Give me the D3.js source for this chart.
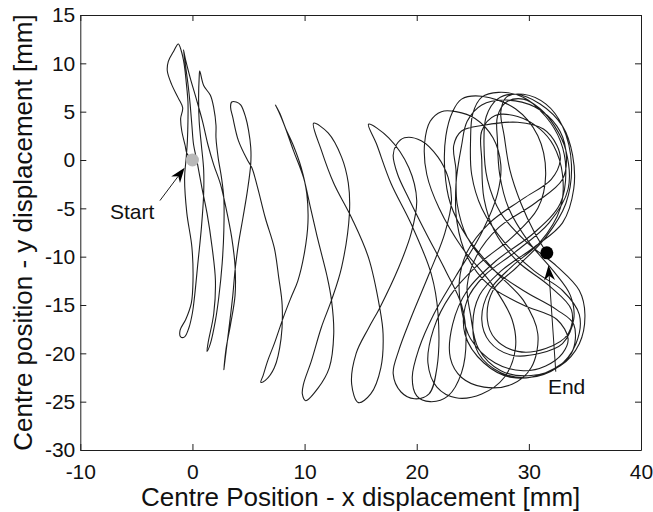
<!DOCTYPE html>
<html>
<head>
<meta charset="utf-8">
<script src="https://cdn.jsdelivr.net/npm/d3@7"></script>
<style>
  body { margin: 0; background: #fff; }
  svg { display: block; font-family: "Liberation Sans", Arial, Helvetica, sans-serif; }
</style>
</head>
<body>
<script>
// tick values
const xTicks = [-10, 0, 10, 20, 30, 40];
const yTicks = [-30, -25, -20, -15, -10, -5, 0, 5, 10, 15];

// trajectory, [x, y] in mm
// first sweeps, drifting to the right
const drift = [
  [0, 0], [-0.5, 0.7], [-0.65, 1.5], [-0.95, 3.0], [-1.05, 4.3], [-0.87, 5.4], [-1.26, 6.4], [-1.85, 7.8], [-2.24, 9.2], [-2.15, 10.2], [-1.7, 11.2], [-1.26, 12.0],
  [-1.0, 11.3], [-0.75, 10.0], [-0.55, 8.0], [-0.4, 6.0], [-0.4, 4.0], [-0.45, 2.0], [-0.55, 0.3], [-0.7, -1.9], [-0.5, -5.5], [-0.05, -9.0], [0.05, -12.5], [-0.1, -14.8], [-0.6, -16.5], [-1.1, -17.6], [-1.05, -18.3], [-0.7, -18.3], [-0.3, -17.3], [0.0, -15.8], [0.2, -14.0],
  [0.5, -10.5], [0.8, -7.0], [1.0, -3.5], [1.0, -1.0], [0.8, 1.5], [0.6, 4.0], [0.55, 6.5], [0.6, 8.5], [0.65, 9.2],
  [1.0, 7.7], [1.6, 6.7], [1.9, 5.4], [2.1, 3.6], [2.1, 2.3], [2.3, 0.2], [2.6, -1.9], [2.8, -4.0], [2.8, -7.3], [2.65, -10.7], [2.35, -14.2], [2.05, -16.6], [1.6, -19.0], [1.3, -19.8],
  [1.4, -18.9], [1.9, -15.9], [2.05, -12.5], [1.75, -9.0], [1.3, -5.5], [0.85, -2.9], [0.4, -0.1], [0.1, 1.6], [-0.05, 3.6], [-0.2, 5.7], [-0.35, 7.4], [-0.55, 9.2], [-0.8, 11.4],
  [-0.6, 10.3], [-0.2, 8.5], [0.3, 6.5], [0.9, 4.0], [1.4, 1.5], [1.9, -0.5], [2.5, -2.5], [3.0, -5.0], [3.5, -8.0], [3.8, -11.0], [3.8, -14.0], [3.4, -17.0], [3.0, -19.5], [2.8, -21.7],
  [3.0, -19.8], [3.3, -17.0], [3.6, -14.0], [3.8, -11.4], [4.1, -8.7], [4.5, -6.0], [4.9, -3.2], [5.2, -0.4], [5.2, 1.3], [5.0, 3.1], [4.75, 4.4], [4.3, 5.7], [3.9, 6.0], [3.5, 6.0], [3.4, 5.5],
  [3.6, 4.4], [4.1, 2.0], [4.9, 0.0], [5.3, -0.8], [5.8, -2.8], [6.5, -6.0], [7.3, -9.1], [7.7, -12.2], [8.0, -15.0], [7.9, -18.5], [7.3, -21.5], [6.5, -22.8], [6.1, -23.0],
  [6.3, -22.3], [6.7, -20.8], [7.3, -19.0], [8.1, -16.3], [8.8, -14.2], [9.4, -12.5], [10.0, -9.5], [10.3, -6.5], [10.2, -3.5], [9.7, -0.8], [9.0, 1.5], [8.3, 3.3], [7.8, 4.8], [7.4, 5.7],
  [7.7, 5.0], [8.2, 3.6], [9.0, 1.0], [9.9, -1.8], [10.5, -4.8], [11.2, -8.3], [12.0, -12.0], [12.4, -14.5], [12.6, -18.0], [12.2, -21.5], [11.2, -23.6], [10.1, -24.9],
  [9.8, -24.2], [9.9, -23.2], [10.6, -20.8], [11.5, -17.3], [12.4, -14.5], [13.3, -11.1], [14.0, -5.5], [13.9, -2.4], [13.3, 0.3], [12.1, 2.8], [10.8, 3.8],
  [11.5, 1.0], [12.6, -2.4], [14.2, -6.0], [15.7, -10.1], [16.7, -15.3], [17.0, -18.0], [16.8, -21.5], [15.9, -24.2], [14.8, -25.1],
  [14.2, -23.2], [14.6, -20.0], [15.7, -17.4], [16.7, -15.3], [18.4, -11.1], [19.5, -7.6], [20.0, -4.2], [19.3, -0.8], [17.5, 2.3], [15.7, 3.7],
  [16.4, 1.7], [17.7, -2.4], [19.5, -6.6], [21.3, -11.8], [21.9, -15.9], [21.8, -21.5], [21.1, -24.2], [19.8, -24.7], [18.6, -24.0],
  [17.9, -22.1], [18.4, -19.7], [19.5, -16.3], [21.1, -11.8], [22.5, -7.6], [23.1, -4.2], [22.8, -1.8], [21.9, 0.3], [20.4, 2.0], [18.9, 2.3], [18.2, 1.6],
  [17.9, 0.5], [18.3, -1.5], [19.3, -4.0], [20.8, -7.5], [22.6, -11.5], [24.0, -15.0], [24.4, -18.5], [24.0, -22.0], [22.8, -24.4], [21.2, -25.0], [20.0, -24.4], [19.6, -22.5]
];

// figure-of-eight loops at the right, ending at the black dot
const loops = [
  [20.2, -19.5], [21.5, -16.0], [23.5, -12.0], [25.8, -7.5], [27.2, -3.5], [27.5, -0.5], [26.8, 2.3], [25.2, 4.3], [23.5, 5.0], [22.2, 5.0], [21.2, 4.0],
  [20.7, 1.7], [20.9, -1.5], [22.0, -5.0], [24.0, -9.0], [26.8, -13.0], [28.5, -16.5], [28.8, -19.5], [27.8, -22.5], [25.8, -24.2], [23.5, -24.6], [21.8, -23.5],
  [21.0, -21.0], [21.5, -17.5], [23.0, -14.0], [25.5, -10.8], [28.5, -8.0], [30.8, -5.0], [31.5, -1.5], [30.8, 2.5], [28.8, 5.3], [25.8, 6.6], [24.0, 6.3], [23.2, 5.0],
  [22.6, 2.5], [22.5, -1.0], [23.0, -4.5], [24.5, -8.0], [27.0, -11.5], [29.5, -14.5], [30.8, -18.0], [30.2, -21.5], [28.5, -23.2], [26.0, -23.5], [24.0, -22.5], [23.0, -20.5],
  [23.2, -17.0], [24.5, -13.5], [27.0, -10.5], [30.5, -7.5], [32.8, -4.5], [33.3, -1.0], [32.8, 2.0], [31.5, 4.5], [29.5, 6.5], [27.3, 7.0], [25.8, 6.5], [25.0, 4.8],
  [24.8, 2.0], [24.9, -1.5], [25.8, -5.0], [27.8, -8.5], [30.5, -11.5], [33.0, -13.5], [34.5, -16.0], [34.2, -19.0], [32.5, -21.5], [30.0, -22.5], [27.5, -22.0], [25.5, -20.0],
  [25.0, -17.0], [25.6, -14.0], [27.5, -11.5], [30.5, -9.0], [33.0, -6.5], [34.0, -3.0], [33.9, 0.5], [33.0, 3.5], [31.0, 5.8], [28.8, 6.8], [27.2, 6.3], [26.2, 4.5],
  [26.0, 1.5], [26.3, -2.0], [27.5, -5.5], [29.8, -8.5], [32.5, -11.0], [34.5, -13.5], [35.0, -16.0], [34.5, -19.0], [32.8, -21.3], [30.2, -22.3], [27.5, -21.8], [25.5, -19.5],
  [24.8, -16.0], [24.5, -13.0], [25.3, -10.0], [27.3, -7.0], [30.5, -4.5], [33.0, -2.0], [33.3, 1.0], [32.5, 3.5], [30.5, 5.5], [28.0, 6.2], [25.8, 5.7], [24.5, 4.0],
  [24.0, 1.5], [23.5, -2.5], [23.6, -6.5], [24.5, -10.0], [26.5, -13.0], [29.5, -15.0], [32.5, -16.5], [33.5, -18.5], [33.0, -20.0], [31.5, -21.3], [29.5, -21.8], [27.0, -21.0], [24.8, -18.5],
  [24.0, -15.5], [23.8, -12.5], [24.5, -9.5], [26.5, -6.5], [29.5, -4.0], [32.0, -2.0], [32.8, 0.0], [32.5, 1.5], [31.3, 3.2], [29.0, 3.9], [26.0, 3.6], [24.0, 3.0], [23.3, 1.5],
  [23.5, -1.0], [23.6, -4.5], [24.5, -8.0], [26.5, -11.0], [29.5, -13.5], [32.5, -15.5], [34.0, -17.0], [33.8, -20.0], [31.5, -22.0], [28.5, -22.5], [26.0, -21.0], [24.3, -18.0],
  [24.5, -14.5], [26.0, -12.0], [28.8, -9.5], [31.8, -6.5], [33.5, -3.0], [33.3, 1.0], [32.3, 3.5], [31.0, 5.3], [29.5, 6.3], [28.0, 6.0], [27.2, 4.5],
  [27.2, 2.0], [27.4, -1.5], [28.2, -5.0], [30.0, -8.5], [32.2, -11.5], [33.7, -14.0], [34.0, -16.5], [33.0, -19.0], [31.0, -20.0], [28.5, -20.2], [26.5, -18.8], [25.8, -16.5],
  [26.5, -13.5], [28.5, -11.0], [31.0, -8.5], [32.8, -5.0], [33.0, -1.5], [32.2, 1.5], [31.0, 3.2], [29.0, 4.5], [27.0, 4.6], [25.8, 3.0],
  [25.8, 0.0], [26.0, -4.0], [27.0, -7.5], [29.0, -10.5], [31.8, -13.0], [33.8, -15.5], [33.5, -18.0], [31.5, -19.5], [29.0, -19.8], [27.0, -18.5], [26.3, -16.5],
  [26.8, -13.5], [29.0, -11.0], [31.5, -8.0], [33.3, -4.5], [33.8, -0.5], [33.0, 3.5], [31.5, 5.8], [29.5, 6.8], [28.0, 6.5], [27.5, 5.0],
  [27.8, 2.5], [28.3, -1.0], [29.3, -4.5], [30.5, -7.5], [31.6, -9.6]
];

const startPoint = [0, 0];
const endPoint = [31.6, -9.6];

// annotations: text anchor and arrow tail -> tip, in mm
const startNote = { text: "Start", at: [-7.35, -6.15], from: [-2.9, -4.2], to: [-0.7, -0.8] };
const endNote = { text: "End", at: [31.7, -24.2], from: [32.4, -21.9], to: [31.75, -10.9] };

const width = 653, height = 512;
const plot = { left: 80.3, right: 641, top: 15, bottom: 450 };

const x = d3.scaleLinear().domain([-10, 40]).range([plot.left, plot.right]);
const y = d3.scaleLinear().domain([-30, 15]).range([plot.bottom, plot.top]);

const svg = d3.select("body").append("svg")
    .attr("width", width)
    .attr("height", height);

const ink = "#1e1e1e";
const plain = d => String(d);   // hyphen minus, as in the original

// trajectory
const line = d3.line()
    .x(d => x(d[0]))
    .y(d => y(d[1]))
    .curve(d3.curveCatmullRom.alpha(0.5));

svg.append("path")
    .datum(drift.concat(loops))
    .attr("fill", "none")
    .attr("stroke", ink)
    .attr("stroke-width", 1.1)
    .attr("stroke-linejoin", "round")
    .attr("d", line);

// axes, ticks pointing inward on all four sides
function styleAxis(g) {
  g.selectAll("path, line").attr("stroke", ink).attr("stroke-width", 1);
  g.selectAll("text")
      .attr("fill", "#111")
      .style("font-size", "21px")
      .style("font-family", '"Liberation Sans", Arial, sans-serif');
}

svg.append("g")
    .attr("transform", `translate(0,${plot.bottom})`)
    .call(d3.axisBottom(x).tickValues(xTicks).tickFormat(plain).tickSize(-6).tickSizeOuter(0).tickPadding(14))
    .call(styleAxis);

svg.append("g")
    .attr("transform", `translate(0,${plot.top})`)
    .call(d3.axisTop(x).tickValues(xTicks).tickSize(-6).tickSizeOuter(0).tickFormat(""))
    .call(styleAxis);

svg.append("g")
    .attr("transform", `translate(${plot.left},0)`)
    .call(d3.axisLeft(y).tickValues(yTicks).tickFormat(plain).tickSize(-6).tickSizeOuter(0).tickPadding(5))
    .call(styleAxis);

svg.append("g")
    .attr("transform", `translate(${plot.right},0)`)
    .call(d3.axisRight(y).tickValues(yTicks).tickSize(-6).tickSizeOuter(0).tickFormat(""))
    .call(styleAxis);

// axis titles
svg.append("text")
    .attr("x", (plot.left + plot.right) / 2)
    .attr("y", 505.5)
    .attr("text-anchor", "middle")
    .attr("fill", "#111")
    .style("font-size", "26px")
    .text("Centre Position - x displacement [mm]");

svg.append("text")
    .attr("transform", `translate(31.5,${(plot.top + plot.bottom) / 2}) rotate(-90)`)
    .attr("text-anchor", "middle")
    .attr("fill", "#111")
    .style("font-size", "26px")
    .text("Centre position - y displacement [mm]");

// start / end markers
svg.append("circle")
    .attr("cx", x(startPoint[0])).attr("cy", y(startPoint[1]))
    .attr("r", 6.5).attr("fill", "#b9b9b9");

svg.append("circle")
    .attr("cx", x(endPoint[0])).attr("cy", y(endPoint[1]))
    .attr("r", 6.5).attr("fill", "#000");

// annotation arrows (filled head with notched back)
function arrow(note) {
  const x0 = x(note.from[0]), y0 = y(note.from[1]);
  const x1 = x(note.to[0]), y1 = y(note.to[1]);
  const len = Math.hypot(x1 - x0, y1 - y0);
  const ux = (x1 - x0) / len, uy = (y1 - y0) / len;
  const px = -uy, py = ux;
  const L = 15, W = 5.5;
  const bx = x1 - ux * L, by = y1 - uy * L;
  const nx = x1 - ux * L * 0.7, ny = y1 - uy * L * 0.7;

  svg.append("line")
      .attr("x1", x0).attr("y1", y0)
      .attr("x2", nx).attr("y2", ny)
      .attr("stroke", ink).attr("stroke-width", 1);

  svg.append("path")
      .attr("d", `M${x1},${y1}L${bx + px * W},${by + py * W}L${nx},${ny}L${bx - px * W},${by - py * W}Z`)
      .attr("fill", "#000");

  svg.append("text")
      .attr("x", x(note.at[0]))
      .attr("y", y(note.at[1]))
      .attr("fill", "#111")
      .style("font-size", "21px")
      .text(note.text);
}

arrow(startNote);
arrow(endNote);
</script>
</body>
</html>
